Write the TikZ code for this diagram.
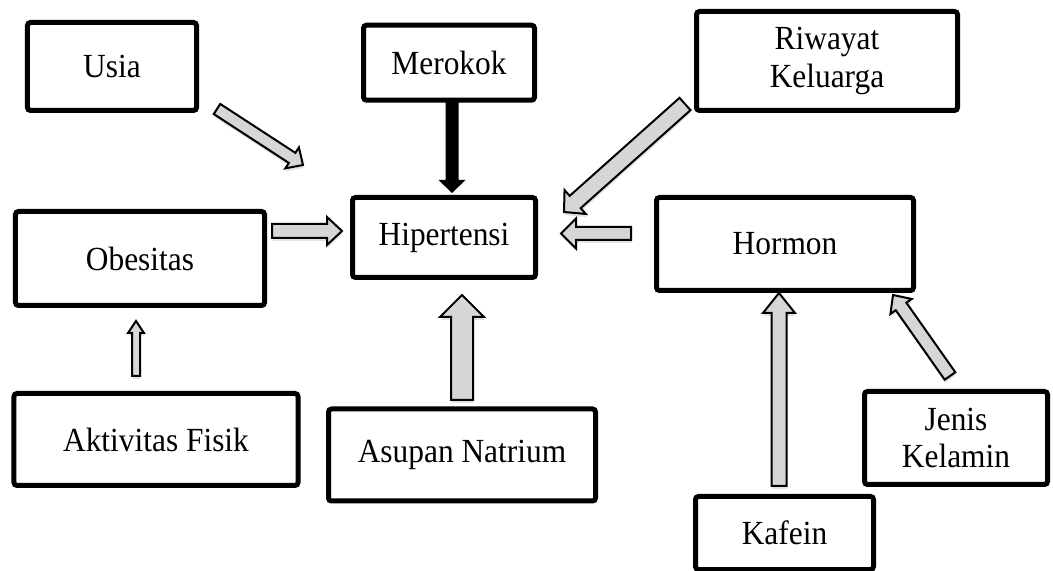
\documentclass[tikz,border=0pt]{standalone}
\usepackage{fontspec}
\setmainfont{Liberation Serif}[FakeStretch=0.93]
\usetikzlibrary{calc,shadows}

% block arrow: [style]{tail}{tip}{half shaft}{half head}{head length}
\newcommand{\blockarrow}[6][fatarrow]{%
  \path[#1] ($(#2)!#4!90:(#3)$) -- ($(#3)!#6!(#2)!#4!-90:(#2)$)
    -- ($(#3)!#6!(#2)!#5!-90:(#2)$) -- (#3)
    -- ($(#3)!#6!(#2)!#5!90:(#2)$) -- ($(#3)!#6!(#2)!#4!90:(#2)$)
    -- ($(#2)!#4!-90:(#3)$) -- cycle;}

\begin{document}
\begin{tikzpicture}[x=0.4pt, y=-0.4pt,
  factor/.style={draw, line width=2pt, rounded corners=1.2pt, inner sep=0pt,
    align=center, font=\fontsize{13.5}{15}\selectfont},
  fatarrow/.style={draw, line width=0.8pt, fill=black!16, line join=miter,
    drop shadow={shadow xshift=0.2pt, shadow yshift=-1.2pt, opacity=0.22}},
  darkarrow/.style={fill=black}]
\useasboundingbox (0,0) rectangle (1053,571);

% factors
\node[factor, minimum width=67.6pt, minimum height=35.2pt] (usia) at (112,66.5) {Usia};
\node[factor, minimum width=68.4pt, minimum height=30pt] (merokok) at (449,62.7) {Merokok};
\node[factor, minimum width=104.4pt, minimum height=39.6pt] (riwayat) at (827,61) {Riwayat\\Keluarga};
\node[factor, minimum width=99.6pt, minimum height=37.6pt] (obesitas) at (140,258.5) {Obesitas};
\node[factor, minimum width=73.2pt, minimum height=32pt] (hipertensi) at (444,237.5) {Hipertensi};
\node[factor, minimum width=102.8pt, minimum height=37.2pt] (hormon) at (785,244) {Hormon};
\node[factor, minimum width=113.6pt, minimum height=36.8pt] (aktivitas) at (156,439.5) {Aktivitas Fisik};
\node[factor, minimum width=106.8pt, minimum height=36.8pt] (asupan) at (462,455) {Asupan Natrium};
\node[factor, minimum width=73.2pt, minimum height=37.2pt] (jenis) at (956,438) {Jenis\\Kelamin};
\node[factor, minimum width=71.2pt, minimum height=29.2pt] (kafein) at (784.5,533) {Kafein};

% arrow ends
\coordinate (usiaA) at (217,109);      \coordinate (usiaB) at (303,165);
\coordinate (merokokA) at (452,101);   \coordinate (merokokB) at (452,193);
\coordinate (riwayatA) at (685,104);   \coordinate (riwayatB) at (564,212);
\coordinate (obesitasA) at (272,231);  \coordinate (obesitasB) at (342,231);
\coordinate (hormonA) at (631,233.5);  \coordinate (hormonB) at (561,233.5);
\coordinate (aktivitasA) at (136,376); \coordinate (aktivitasB) at (136,321);
\coordinate (asupanA) at (462,400);    \coordinate (asupanB) at (462,295);
\coordinate (kafeinA) at (779,486);    \coordinate (kafeinB) at (779,293);
\coordinate (jenisA) at (950,376);     \coordinate (jenisB) at (893,295);

% arrows
\blockarrow{usiaA}{usiaB}{2.4pt}{5pt}{5.2pt}
\blockarrow[darkarrow]{merokokA}{merokokB}{2.6pt}{5.4pt}{5.2pt}
\blockarrow{riwayatA}{riwayatB}{3.3pt}{6.4pt}{6pt}
\blockarrow{obesitasA}{obesitasB}{2.8pt}{5.6pt}{6pt}
\blockarrow{hormonA}{hormonB}{2.6pt}{6pt}{6pt}
\blockarrow{aktivitasA}{aktivitasB}{1.6pt}{3.2pt}{4.8pt}
\blockarrow{asupanA}{asupanB}{4.4pt}{8.8pt}{8.8pt}
\blockarrow{kafeinA}{kafeinB}{3pt}{6.4pt}{8pt}
\blockarrow{jenisA}{jenisB}{2.6pt}{5.2pt}{5.6pt}
\end{tikzpicture}
\end{document}
